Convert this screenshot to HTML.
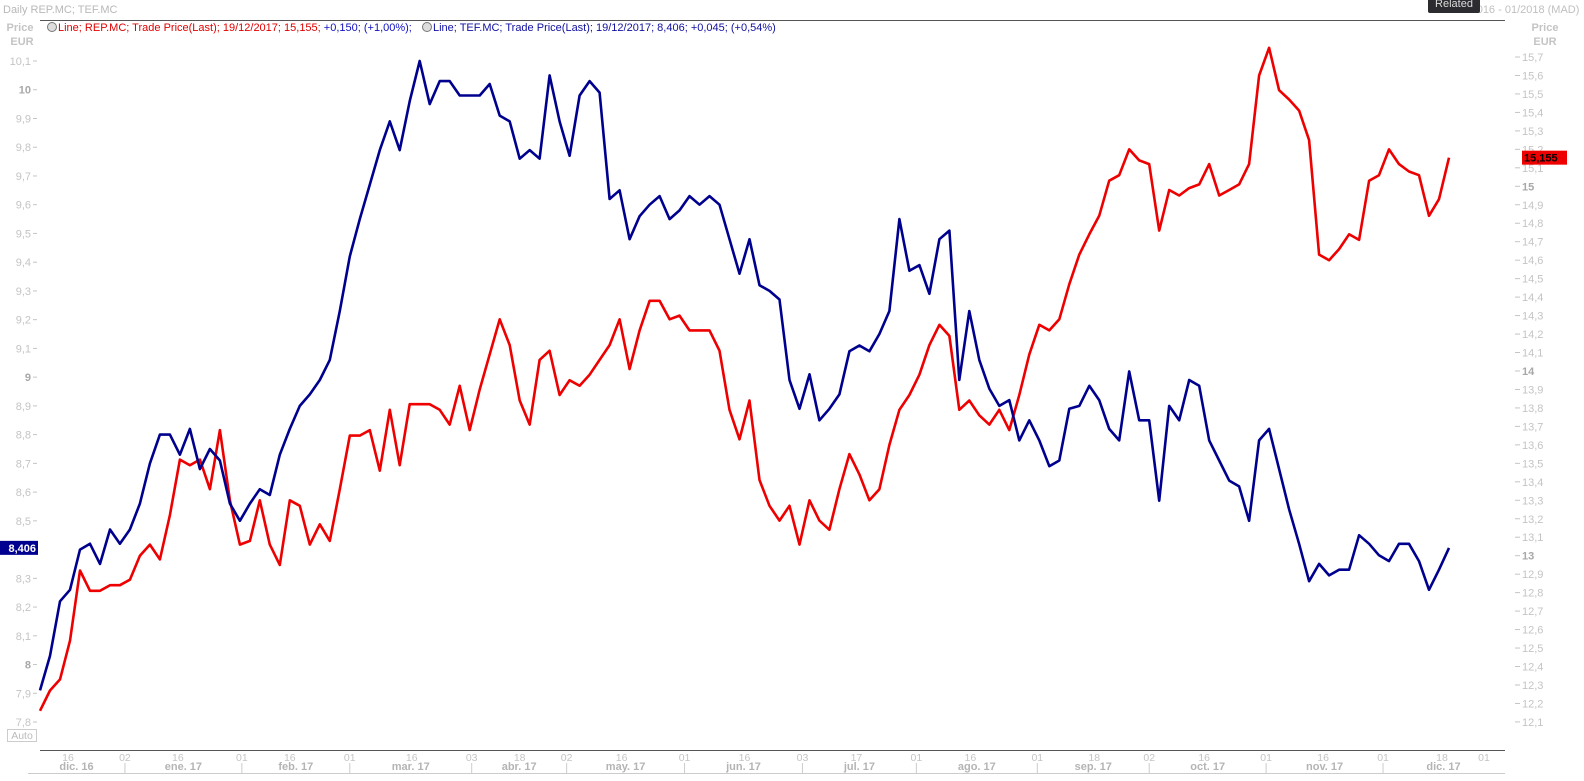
<!DOCTYPE html>
<html><head><meta charset="utf-8">
<style>
html,body{margin:0;padding:0;background:#fff;}
body{width:1584px;height:781px;overflow:hidden;position:relative;font-family:"Liberation Sans",sans-serif;}
svg{position:absolute;left:0;top:0;}
</style></head>
<body>
<svg id="chart" width="1584" height="781" font-family="Liberation Sans, sans-serif">
  <text x="3" y="13" font-size="11" fill="#b8b8b8">Daily REP.MC; TEF.MC</text>
  <line x1="40" y1="20.5" x2="1505" y2="20.5" stroke="#555" stroke-width="1"/>
  <text x="1440" y="13" font-size="11" fill="#c0c0c0">08/12/2016 - 01/2018 (MAD)</text>
  <rect x="1428" y="-4" width="52" height="17" rx="2" fill="#2b2b30"/>
  <text x="1454" y="7" font-size="11" fill="#ddd" text-anchor="middle">Related</text>
  <g font-size="11">
    <circle cx="52" cy="27" r="4.5" fill="#ddd" stroke="#777"/>
    <text x="58" y="31" fill="#e00000">Line; REP.MC; Trade Price(Last);  19/12/2017; 15,155; <tspan fill="#1010c0">+0,150; (+1,00%);</tspan></text>
    <circle cx="427" cy="27" r="4.5" fill="#ddd" stroke="#777"/>
    <text x="433" y="31" fill="#1010a0">Line; TEF.MC; Trade Price(Last);  19/12/2017; 8,406; +0,045; (+0,54%)</text>
  </g>
  <text x="20" y="31" font-size="11" font-weight="bold" fill="#c4c4c4" text-anchor="middle">Price</text>
  <text x="22" y="45" font-size="11" font-weight="bold" fill="#c4c4c4" text-anchor="middle">EUR</text>
  <text x="1545" y="31" font-size="11" font-weight="bold" fill="#c4c4c4" text-anchor="middle">Price</text>
  <text x="1545" y="45" font-size="11" font-weight="bold" fill="#c4c4c4" text-anchor="middle">EUR</text>
  <g id="leftAxis"></g><g id="rightAxis"></g><g id="xAxis"></g><g id="series"></g>
  <rect x="7.5" y="729.5" width="29" height="12" fill="#fff" stroke="#ccc"/>
  <text x="22" y="739" font-size="10.5" fill="#bbb" text-anchor="middle">Auto</text>
</svg>
<script>
const tefValues=[7.91,8.03,8.22,8.26,8.40,8.42,8.35,8.47,8.42,8.47,8.56,8.70,8.80,8.80,8.73,8.82,8.68,8.75,8.71,8.56,8.50,8.56,8.61,8.59,8.73,8.82,8.90,8.94,8.99,9.06,9.23,9.42,9.55,9.67,9.79,9.89,9.79,9.96,10.10,9.95,10.03,10.03,9.98,9.98,9.98,10.02,9.91,9.89,9.76,9.79,9.76,10.05,9.89,9.77,9.98,10.03,9.99,9.62,9.65,9.48,9.56,9.60,9.63,9.55,9.58,9.63,9.60,9.63,9.60,9.48,9.36,9.48,9.32,9.30,9.27,8.99,8.89,9.01,8.85,8.89,8.94,9.09,9.11,9.09,9.15,9.23,9.55,9.37,9.39,9.29,9.48,9.51,8.99,9.23,9.06,8.96,8.90,8.92,8.78,8.85,8.78,8.69,8.71,8.89,8.90,8.97,8.92,8.82,8.78,9.02,8.85,8.85,8.57,8.90,8.85,8.99,8.97,8.78,8.71,8.64,8.62,8.50,8.78,8.82,8.68,8.54,8.42,8.29,8.35,8.31,8.33,8.33,8.45,8.42,8.38,8.36,8.42,8.42,8.36,8.26,8.33,8.406];
const repValues=[12.16,12.27,12.33,12.54,12.92,12.81,12.81,12.84,12.84,12.87,13.00,13.06,12.98,13.22,13.52,13.49,13.52,13.36,13.68,13.30,13.06,13.08,13.30,13.06,12.95,13.30,13.27,13.06,13.17,13.08,13.36,13.65,13.65,13.68,13.46,13.79,13.49,13.82,13.82,13.82,13.79,13.71,13.92,13.68,13.90,14.09,14.28,14.14,13.84,13.71,14.06,14.11,13.87,13.95,13.92,13.98,14.06,14.14,14.28,14.01,14.22,14.38,14.38,14.28,14.30,14.22,14.22,14.22,14.11,13.79,13.63,13.84,13.41,13.27,13.19,13.27,13.06,13.30,13.19,13.14,13.36,13.55,13.44,13.30,13.36,13.60,13.79,13.87,13.98,14.14,14.25,14.19,13.79,13.84,13.76,13.71,13.79,13.68,13.87,14.09,14.25,14.22,14.28,14.47,14.63,14.74,14.84,15.03,15.06,15.20,15.14,15.12,14.76,14.98,14.95,14.99,15.01,15.12,14.95,14.98,15.01,15.12,15.60,15.75,15.52,15.47,15.41,15.25,14.63,14.60,14.66,14.74,14.71,15.03,15.06,15.20,15.12,15.08,15.06,14.84,14.93,15.155];
const leftTicks=["10,1","10","9,9","9,8","9,7","9,6","9,5","9,4","9,3","9,2","9,1","9","8,9","8,8","8,7","8,6","8,5","8,4","8,3","8,2","8,1","8","7,9","7,8"];
const rightTicks=["15,7","15,6","15,5","15,4","15,3","15,2","15,1","15","14,9","14,8","14,7","14,6","14,5","14,4","14,3","14,2","14,1","14","13,9","13,8","13,7","13,6","13,5","13,4","13,3","13,2","13,1","13","12,9","12,8","12,7","12,6","12,5","12,4","12,3","12,2","12,1"];
const dayLabels=["16","02","16","01","16","01","16","03","18","02","16","01","16","03","17","01","16","01","18","02","16","01","16","01","18","01"];
const dayIdx=[2.8,8.5,13.8,20.2,25,31,37.2,43.2,48,52.7,58.2,64.5,70.5,76.3,81.7,87.7,93.1,99.8,105.5,111,116.5,122.7,128.4,134.4,140.3,144.5];
const monthLabels=["dic. 16","ene. 17","feb. 17","mar. 17","abr. 17","may. 17","jun. 17","jul. 17","ago. 17","sep. 17","oct. 17","nov. 17","dic. 17"];
const monthStartIdx=[-2.5,8.5,20.2,31,43.2,52.7,64.5,76.3,87.7,99.8,111,122.7,134.4,146.5];

const NS="http://www.w3.org/2000/svg";
const X0=40,X1=1449;
const n=tefValues.length;
function xAt(i){return X0+i*(X1-X0)/(n-1);}
function yLeft(v){return 61+(10.1-v)*287.4;}
function yRight(v){return 57+(15.7-v)*184.7;}
function mk(tag,attrs,parent){const e=document.createElementNS(NS,tag);for(const k in attrs)e.setAttribute(k,attrs[k]);parent.appendChild(e);return e;}

const la=document.getElementById('leftAxis');
leftTicks.forEach((t,k)=>{
  const v=parseFloat(t.replace(',','.'));const y=yLeft(v);
  const major=(t.indexOf(',')<0);
  const tx=mk('text',{x:31,y:y+4,'font-size':11,'text-anchor':'end',fill:major?'#a8a8a8':'#c4c4c4','font-weight':major?'bold':'normal'},la);
  tx.textContent=t;
  
  
  const tk=mk('line',{x1:33,x2:37,y1:y,y2:y,stroke:'#c4c4c4'},la);
  
  
});
const ra=document.getElementById('rightAxis');
rightTicks.forEach((t)=>{
  const v=parseFloat(t.replace(',','.'));const y=yRight(v);
  const major=(t.indexOf(',')<0);
  const tk=mk('line',{x1:1515,x2:1520,y1:y,y2:y,stroke:'#c4c4c4'},ra);
  
  
  const tx=mk('text',{x:1522,y:y+4,'font-size':11,fill:major?'#a8a8a8':'#c4c4c4','font-weight':major?'bold':'normal'},ra);
  tx.textContent=t;
  
  
});

const xa=document.getElementById('xAxis');
const base=mk('line',{x1:40,x2:1505,y1:750.5,y2:750.5,stroke:'#555'},xa);


const bot=mk('line',{x1:28,x2:1505,y1:773.5,y2:773.5,stroke:'#ccc'},xa);


dayLabels.forEach((d,k)=>{
  const tx=mk('text',{x:xAt(dayIdx[k]),y:761,'font-size':10.5,'text-anchor':'middle',fill:'#c4c4c4'},xa);
  tx.textContent=d;
  
  
});
monthLabels.forEach((m,k)=>{
  const a=Math.max(xAt(monthStartIdx[k]),28),b=Math.min(xAt(monthStartIdx[k+1]),1505);
  const tx=mk('text',{x:(a+b)/2,y:770,'font-size':11,'font-weight':'bold','text-anchor':'middle',fill:'#b4b4b4'},xa);
  tx.textContent=m;
  
  
  if(k>0){
    const s=mk('line',{x1:a,x2:a,y1:763,y2:773,stroke:'#ccc'},xa);
    
    
  }
});

const sg=document.getElementById('series');
const rp=repValues.map((v,i)=>xAt(i).toFixed(1)+','+yRight(v).toFixed(1)).join(' ');
const tp=tefValues.map((v,i)=>xAt(i).toFixed(1)+','+yLeft(v).toFixed(1)).join(' ');
const rl=mk('polyline',{points:rp,fill:'none',stroke:'#ee0000','stroke-width':2.6,'stroke-linejoin':'round'},sg);


const tl=mk('polyline',{points:tp,fill:'none',stroke:'#00008e','stroke-width':2.6,'stroke-linejoin':'round'},sg);



const lastT=tefValues[n-1],lastR=repValues[n-1];
const lb=mk('rect',{x:0,y:yLeft(lastT)-7,width:38,height:14,fill:'#000090'},sg);


const lbt=mk('text',{x:36,y:yLeft(lastT)+4,'font-size':11,'font-weight':'bold','text-anchor':'end',fill:'#fff'},sg);
lbt.textContent=lastT.toFixed(3).replace('.',',');


const rb=mk('rect',{x:1522,y:yRight(lastR)-7,width:45,height:14,fill:'#ee0000'},sg);


const rbt=mk('text',{x:1524,y:yRight(lastR)+4,'font-size':11,'font-weight':'bold',fill:'#000'},sg);
rbt.textContent=lastR.toFixed(3).replace('.',',');


</script>
</body></html>
